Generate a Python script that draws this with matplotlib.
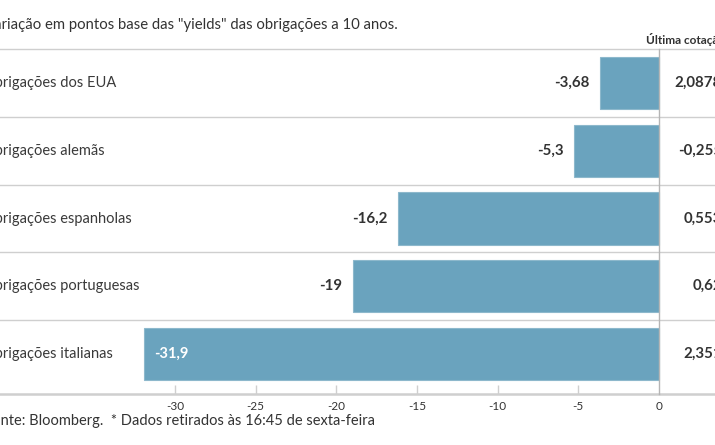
import numpy as np
import matplotlib.pyplot as plt

# data
categories = ['Obrigações dos EUA', 'Obrigações alemãs', 'Obrigações espanholas',
              'Obrigações portuguesas', 'Obrigações italianas']
changes = [-3.68, -5.3, -16.2, -19, -31.9]
change_labels = ['-3,68', '-5,3', '-16,2', '-19', '-31,9']
last_quote = ['2,0878', '-0,255', '0,553', '0,62', '2,351']
ticks = [-30, -25, -20, -15, -10, -5, 0]
title = 'Variação em pontos base das "yields" das obrigações a 10 anos.'
header = 'Última cotação*'
source = 'Fonte: Bloomberg.  * Dados retirados às 16:45 de sexta-feira'

W, H = 715, 445
BAR = '#6aa3be'
TXT = '#333333'
FONT = 'Lato'

# pixel -> data helpers (axes spans whole figure)
X0, PPU = 659, 16.13          # pixel of zero, pixels per unit
Y0, ROW = 83, 67.75           # centre of first row, row height in px
def px_x(p):
    return (p - X0) / PPU
def px_y(p):
    return (p - Y0) / ROW

fig = plt.figure(figsize=(W / 100, H / 100), dpi=100)
ax = fig.add_axes([0, 0, 1, 1])
ax.set_xlim(px_x(0), px_x(W))
ax.set_ylim(px_y(H), px_y(0))
ax.axis('off')

y = np.arange(len(categories))
ax.barh(y, changes, height=0.77, color=BAR, edgecolor='#8db8cc', linewidth=0.8, zorder=2)

# row separators
for i in range(len(categories)):
    ax.axhline(i - 0.5, color='#cfcfcf', lw=1, zorder=1)
axis_y = px_y(394)
ax.axhline(axis_y, color='#cfcfcf', lw=1.8, zorder=1)
ax.plot([0, 0], [-0.5, axis_y], color='#b5b5b5', lw=1, zorder=3)

# ticks
ax.vlines(ticks[:-1], px_y(385), axis_y, color='#cfcfcf', lw=1)
for t in ticks:
    ax.text(t, px_y(406), str(t), ha='center', va='center', fontsize=8.5,
            color=TXT, family=FONT)

for i, (cat, v, lab, q) in enumerate(zip(categories, changes, change_labels, last_quote)):
    ax.text(px_x(-17), i, cat, ha='left', va='center', fontsize=10.5,
            color='#3a3a3a', family=FONT)
    if v < -25:
        ax.text(v + 10 / PPU, i, lab, ha='left', va='center', fontsize=10.5,
                color='white', fontweight='bold', family=FONT)
    else:
        ax.text(v - 10 / PPU, i, lab, ha='right', va='center', fontsize=10.8,
                color=TXT, fontweight='bold', family=FONT)
    ax.text(px_x(722), i, q, ha='right', va='center', fontsize=10.8,
            color=TXT, fontweight='bold', family=FONT, clip_on=False)

ax.text(px_x(646), px_y(40), header, ha='left', va='center', fontsize=8.5,
        color=TXT, fontweight='bold', family=FONT, clip_on=False)
ax.text(px_x(-16), px_y(25), title, ha='left', va='center', fontsize=10.7,
        color=TXT, family=FONT, clip_on=False)
ax.text(px_x(-16), px_y(421), source, ha='left', va='center', fontsize=10.5,
        color=TXT, family=FONT, clip_on=False)

fig.savefig('out.png', dpi=100)
